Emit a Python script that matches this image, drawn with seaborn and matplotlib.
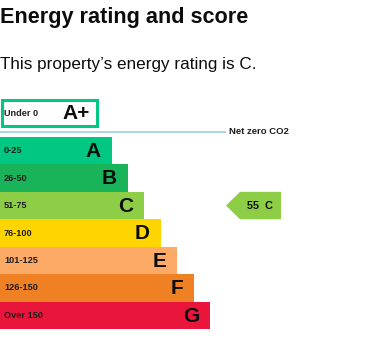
import matplotlib
matplotlib.use("Agg")
import matplotlib.pyplot as plt
import seaborn as sns
import pandas as pd
from matplotlib.patches import Rectangle, Polygon

sns.set_theme(style="white")
plt.rcParams['font.family'] = ['Liberation Sans', 'DejaVu Sans']

# Data
bands = ["A", "B", "C", "D", "E", "F", "G"]
ranges = ["0-25", "26-50", "51-75", "76-100", "101-125", "126-150", "Over 150"]
bar_len = [112, 128, 144, 161, 177, 194, 210]
colors = ["#00c781", "#19b459", "#8dce46", "#ffd500", "#fcaa65", "#ef8023", "#e9153b"]
top_band = "A+"
top_range = "Under 0"
current_score = 55
current_band = "C"
title = "Energy rating and score"
subtitle = "This property\u2019s energy rating is C."
netzero_label = "Net zero CO2"

W, H = 368, 344
fig = plt.figure(figsize=(W / 100, H / 100), dpi=100)

# overlay axes in pixel coordinates
ov = fig.add_axes([0, 0, 1, 1])
ov.set_xlim(0, W)
ov.set_ylim(H, 0)
ov.axis("off")
ov.patch.set_alpha(0)

ov.text(0, 18, title, fontsize=15.6, fontweight="bold", color="#0b0c0c", va="center", ha="left")
ov.text(0, 65, subtitle, fontsize=12.35, color="#0b0c0c", va="center", ha="left")

# A+ box
ov.add_patch(Rectangle((2, 99.5), 95, 26.5, facecolor="white", edgecolor=colors[0], linewidth=2.2))
ov.text(4, 113, top_range, fontsize=6.6, fontweight="bold", color="#1d1d1d", va="center", ha="left")
ov.text(90, 113.5, top_band, fontsize=15, fontweight="bold", color="#0b0c0c", va="center", ha="right")

# net zero line
ov.plot([0, 226], [132, 132], color="#a9d9e8", linewidth=1.5, solid_capstyle="butt")
ov.text(229, 132, netzero_label, fontsize=6.8, fontweight="bold", color="#1d1d1d", va="center", ha="left")

# bars axes
ax = fig.add_axes([0, (H - 329) / H, 1, 192 / H])
df = pd.DataFrame({"band": bands, "len": bar_len})
sns.barplot(data=df, x="len", y="band", hue="band", palette=colors, width=1, orient="h",
            legend=False, ax=ax, saturation=1, linewidth=0)
ax.set_xlim(0, W)
ax.set_ylim(len(bands) - 0.5, -0.5)
ax.axis("off")
ax.patch.set_alpha(0)

for i, (b, r, L) in enumerate(zip(bands, ranges, bar_len)):
    ax.text(4, i, r, fontsize=6.6, fontweight="bold", color="#1d1d1d", va="center", ha="left")
    ax.text(L - 11, i + 0.03, b, fontsize=15, fontweight="bold", color="#0b0c0c", va="center", ha="right")

# current rating arrow
ci = bands.index(current_band)
poly = Polygon([(240, ci - 0.5), (281, ci - 0.5), (281, ci + 0.5), (240, ci + 0.5), (226, ci)],
               closed=True, facecolor=colors[ci], edgecolor="none")
ax.add_patch(poly)
ax.text(247, ci, f"{current_score}  {current_band}", fontsize=7.8, fontweight="bold",
        color="#0b0c0c", va="center", ha="left")

fig.savefig("out.png", dpi=100)
